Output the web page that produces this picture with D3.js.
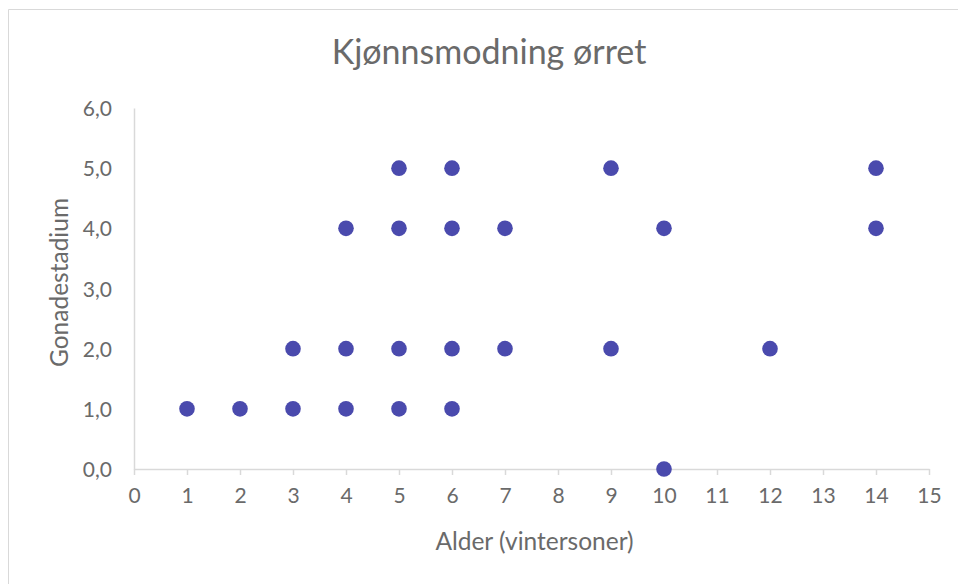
<!DOCTYPE html>
<html>
<head>
<meta charset="utf-8">
<script src="https://cdn.jsdelivr.net/npm/d3@7"></script>
<style>
  body { margin: 0; background: #fff; overflow: hidden; }
  svg { display: block; }
</style>
</head>
<body>
<div id="plot"></div>
<script>
// data: alder (vintersoner) and gonadestadium
const alder = [1, 2, 3, 4, 5, 6, 3, 4, 5, 6, 7, 9, 12, 4, 5, 6, 7, 10, 14, 5, 6, 9, 14, 10];
const stadium = [1, 1, 1, 1, 1, 1, 2, 2, 2, 2, 2, 2, 2, 4, 4, 4, 4, 4, 4, 5, 5, 5, 5, 0];
const xTicks = d3.range(0, 16);
const yTicks = [0, 1, 2, 3, 4, 5, 6];

const w = 958, h = 584;
const font = "Lato, 'Open Sans', sans-serif";
const grey = "#6a6a6a";
var margin = {top: 108, right: 29, bottom: 115, left: 134},
    innerWidth = w - margin.left - margin.right,
    innerHeight = h - margin.top - margin.bottom;

var root = d3.select("div#plot")
  .append("svg")
    .attr("width", w)
    .attr("height", h)
    .attr("font-family", font);

// chart border (only top and left edges show)
root.append("path")
  .attr("d", `M8.5,${h} V9.5 H${w}`)
  .attr("fill", "none")
  .attr("stroke", "#d9d9d9");

root.append("text")
  .attr("x", 489).attr("y", 64)
  .attr("text-anchor", "middle")
  .attr("font-size", 34)
  .attr("fill", grey)
  .text("Kjønnsmodning ørret");

var svg = root.append("g")
  .attr("transform", `translate(${margin.left}, ${margin.top})`);

var x = d3.scaleLinear().domain([0, 15]).range([0, innerWidth]);
var y = d3.scaleLinear().domain([0, 6]).range([innerHeight, 0]);

var xAxis = svg.append("g")
  .attr("transform", `translate(0, ${innerHeight})`)
  .call(d3.axisBottom(x).tickValues(xTicks).tickSize(6).tickSizeOuter(0).tickPadding(10).tickFormat(d3.format("d")));

var yAxis = svg.append("g")
  .call(d3.axisLeft(y).tickValues(yTicks).tickSize(0).tickPadding(22).tickFormat(d => d.toFixed(1).replace(".", ",")));

[xAxis, yAxis].forEach(a => {
  a.attr("font-family", font).attr("font-size", 21);
  a.select(".domain").attr("stroke", "#d9d9d9").attr("stroke-width", 1.5);
  a.selectAll(".tick line").attr("stroke", "#d9d9d9").attr("stroke-width", 1.5);
  a.selectAll(".tick text").attr("fill", grey);
});
xAxis.selectAll(".tick text").attr("dy", "0.85em");
yAxis.selectAll(".tick text").attr("dy", "0.36em");

svg.append("text")
  .attr("x", innerWidth / 2 + 3)
  .attr("y", innerHeight + 81)
  .attr("text-anchor", "middle")
  .attr("font-size", 24.5)
  .attr("fill", grey)
  .text("Alder (vintersoner)");

svg.append("text")
  .attr("transform", "rotate(-90)")
  .attr("x", -innerHeight / 2 + 6)
  .attr("y", -66)
  .attr("text-anchor", "middle")
  .attr("font-size", 24.5)
  .attr("fill", grey)
  .text("Gonadestadium");

svg.append("g")
  .selectAll("circle")
  .data(alder)
  .enter().append("circle")
    .attr("cx", d => x(d))
    .attr("cy", (d, i) => y(stadium[i]))
    .attr("r", 7.8)
    .attr("fill", "#4a4aad");
</script>
</body>
</html>
